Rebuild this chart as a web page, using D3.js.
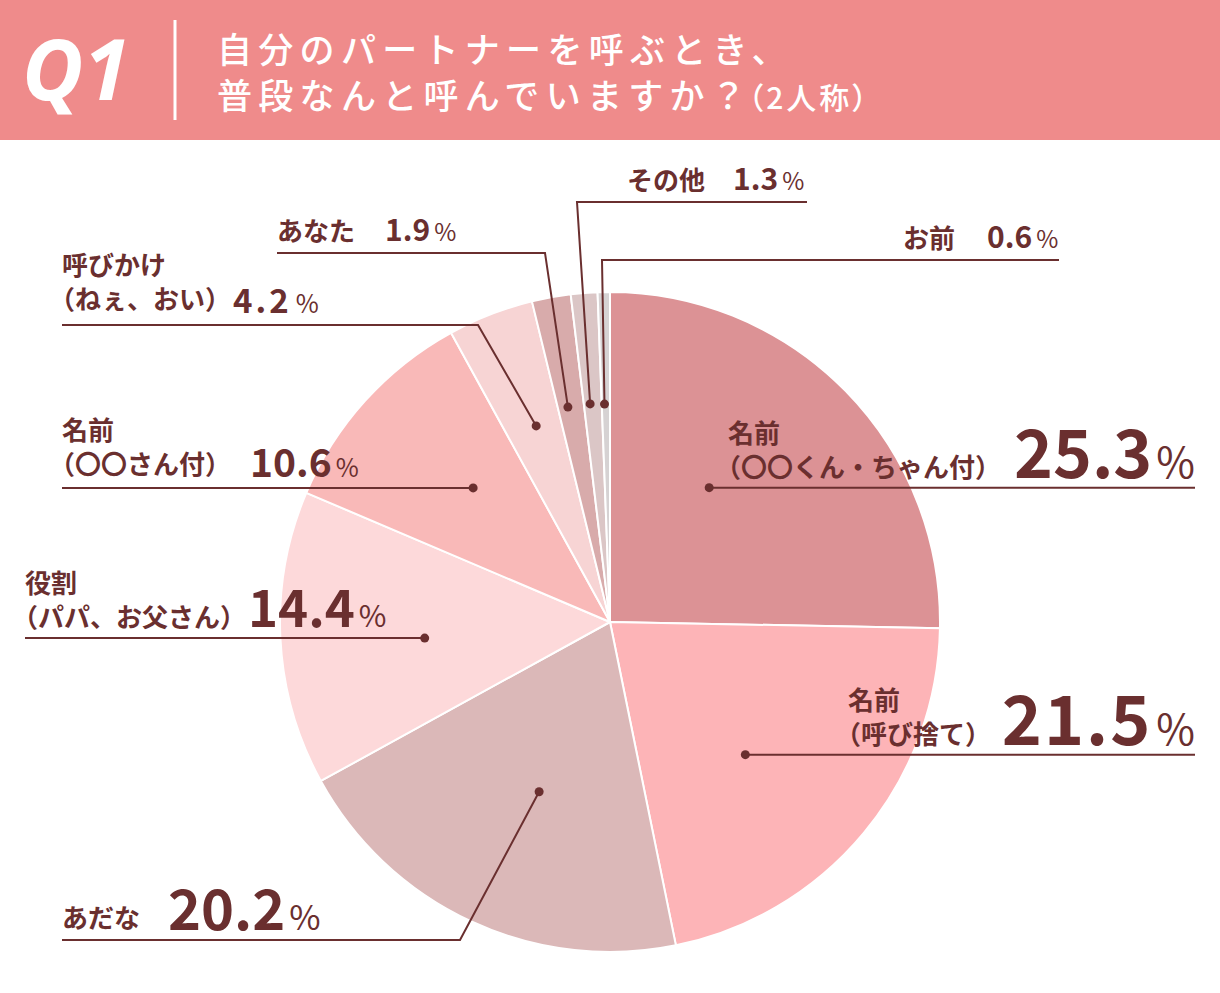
<!DOCTYPE html>
<html>
<head>
<meta charset="utf-8">
<script src="https://cdn.jsdelivr.net/npm/d3@7"></script>
<style>
  body { margin: 0; background: #fff; }
  svg text { font-family: "Noto Sans CJK JP", "Noto Sans", sans-serif; }
  .palt { font-feature-settings: "palt"; }
</style>
</head>
<body>
<svg id="chart" width="1220" height="993"></svg>
<script>
"use strict";

// data
var names = ["名前\n（〇〇くん・ちゃん付）", "名前\n（呼び捨て）", "あだな", "役割\n（パパ、お父さん）",
             "名前\n（〇〇さん付）", "呼びかけ\n（ねぇ、おい）", "あなた", "その他", "お前"];
var values = [25.3, 21.5, 20.2, 14.4, 10.6, 4.2, 1.9, 1.3, 0.6];
var colors = ["#dc9295", "#fdb4b7", "#dbb8b8", "#fdd9da", "#f9b9b8", "#f7d4d4", "#d8abab", "#dbc6c6", "#d6d2d3"];

// leader / label layout (dot radius, position inside slice, elbow, line end, text)
var dotR    = [167, 189.5, 184, 186, 191.6, 209.5, 219, 219, 218];
var dotFrac = [0.40, 0.56, 0.47, 0.46, 0.56, 0.54, 0.38, 0.35, 0.33];
var elbows  = [null, null, [460, 940], null, null, [478, 325], [545, 253], [577, 202], [602, 260]];
var lineEnd = [1195, 1195, 62, 25, 62, 62, 277, 807, 1059];
var labelX  = [728, 848, 62, 25, 62, 62, 277, 627, 903];
var labelY  = [443, 710, 928, 593, 440, 275, 241, 190, 248];
var numX    = [1195, 1195, 168, 248, 250, 233, 385, 733, 987];
var numY    = [478, 745, 930, 627, 477, 313, 241, 190, 248];
var numSize = [66, 68, 56, 51, 39, 33, 30, 30, 30];
var numLS   = [0, 2, 0, 0, 0, 3, 0, 0, 0];
var pctSize = [42, 42, 34, 30, 25, 25, 24, 24, 24];

var ink = "#6a2f2f";
var cx = 610, cy = 622, radius = 330;
var fs = 26;

var svg = d3.select("#chart");

// header
svg.append("rect").attr("x", 0).attr("y", 0).attr("width", 1220).attr("height", 140).attr("fill", "#ef8b8b");
svg.append("text").attr("x", 22).attr("y", 100)
  .attr("fill", "#fff").attr("font-size", 84).attr("font-weight", 700).attr("font-style", "italic")
  .style("font-family", "'Noto Sans', 'DejaVu Sans', sans-serif")
  .text("Q1");
svg.append("line").attr("x1", 175).attr("x2", 175).attr("y1", 20).attr("y2", 120)
  .attr("stroke", "#fff").attr("stroke-width", 3);
svg.append("text").attr("x", 217).attr("y", 63)
  .attr("fill", "#fff").attr("font-size", 35).attr("font-weight", 500).attr("letter-spacing", 6.3)
  .text("自分のパートナーを呼ぶとき、");
var t2 = svg.append("text").attr("x", 217).attr("y", 109)
  .attr("fill", "#fff").attr("font-size", 35).attr("font-weight", 500).attr("letter-spacing", 6.3);
t2.append("tspan").text("普段なんと呼んでいますか？");
t2.append("tspan").attr("class", "palt").attr("dx", -4).attr("font-size", 30).attr("letter-spacing", 3).text("（2人称）");

// pie
var pie = d3.pie().sort(null).value(function(d) { return d; });
var arcs = pie(values);
var arc = d3.arc().innerRadius(0).outerRadius(radius);

var g = svg.append("g").attr("transform", "translate(" + cx + "," + cy + ")");
g.selectAll("path.slice")
  .data(arcs)
  .enter()
  .append("path")
  .attr("class", "slice")
  .attr("d", arc)
  .attr("fill", function(d, i) { return colors[i]; })
  .attr("stroke", "#fff")
  .attr("stroke-width", 2)
  .attr("stroke-linejoin", "round");

// leader lines
function dotPos(d, i) {
  var a = d.startAngle + dotFrac[i] * (d.endAngle - d.startAngle);
  return [cx + dotR[i] * Math.sin(a), cy - dotR[i] * Math.cos(a)];
}

var leaders = svg.append("g");
arcs.forEach(function(d, i) {
  var p = dotPos(d, i);
  var pts = [p];
  var y = p[1];
  if (elbows[i]) { pts.push(elbows[i]); y = elbows[i][1]; }
  pts.push([lineEnd[i], y]);
  leaders.append("path")
    .attr("d", d3.line()(pts))
    .attr("fill", "none")
    .attr("stroke", ink)
    .attr("stroke-width", 2);
  leaders.append("circle")
    .attr("cx", p[0]).attr("cy", p[1]).attr("r", 4.5)
    .attr("fill", ink);
});

// labels
var labels = svg.append("g").attr("fill", ink);
names.forEach(function(name, i) {
  var lines = name.split("\n");
  var lt = labels.append("text")
    .attr("x", labelX[i]).attr("y", labelY[i])
    .attr("font-size", fs).attr("font-weight", 700);
  lines.forEach(function(s, k) {
    // second line starts with a full-width paren: pull it left by its blank half
    var x0 = s.charAt(0) === "（" ? labelX[i] - fs / 2 : labelX[i];
    lt.append("tspan").attr("x", x0).attr("dy", k === 0 ? 0 : 34).text(s);
  });

  var nt = labels.append("text")
    .attr("x", numX[i]).attr("y", numY[i])
    .attr("text-anchor", i < 2 ? "end" : "start");
  nt.append("tspan")
    .attr("font-size", numSize[i]).attr("font-weight", 700)
    .attr("letter-spacing", numLS[i])
    .text(values[i].toFixed(1));
  nt.append("tspan")
    .attr("dx", 4)
    .attr("font-size", pctSize[i]).attr("font-weight", 400)
    .text("%");
});
</script>
</body>
</html>
